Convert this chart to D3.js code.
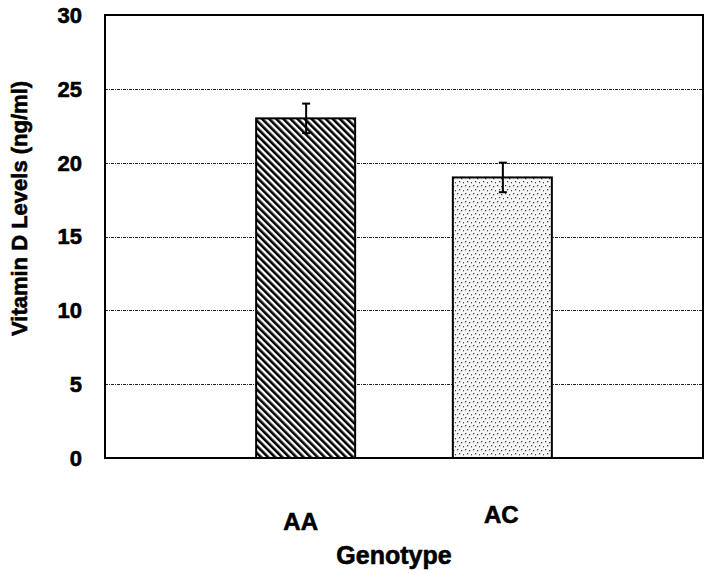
<!DOCTYPE html>
<html>
<head>
<meta charset="utf-8">
<script src="https://cdn.jsdelivr.net/npm/d3@7"></script>
<style>
  html, body { margin: 0; padding: 0; background: #fff; }
  svg { display: block; }
  text { font-family: "Liberation Sans", Arial, sans-serif; font-weight: bold; fill: #000; stroke: #000; stroke-width: 0.6; }
</style>
</head>
<body>
<svg id="chart" width="709" height="574"></svg>
<script>
// ---- data ----
const categories = ["AA", "AC"];
const values = [23, 19];
const errors = [1, 1];
const yTicks = [0, 5, 10, 15, 20, 25, 30];
const gridValues = [5, 10, 15, 20, 25];
const xTitle = "Genotype";
const yTitle = "Vitamin D Levels (ng/ml)";

// ---- layout ----
const plot = { left: 105, right: 703, top: 15, bottom: 458 };

const svg = d3.select("#chart");

const defs = svg.append("defs");
// diagonal stripes for AA
const stripe = defs.append("pattern")
  .attr("id", "stripes")
  .attr("patternUnits", "userSpaceOnUse")
  .attr("width", 5).attr("height", 5)
  .attr("patternTransform", "rotate(-45)");
stripe.append("rect").attr("width", 5).attr("height", 5).attr("fill", "#fff");
stripe.append("rect").attr("width", 2.6).attr("height", 5).attr("fill", "#000");

// stipple for AC
const dots = defs.append("pattern")
  .attr("id", "dots")
  .attr("patternUnits", "userSpaceOnUse")
  .attr("width", 8).attr("height", 8);
dots.append("rect").attr("width", 8).attr("height", 8).attr("fill", "#f6f6f6");
[[1,1],[5,2],[3,5],[7,6]].forEach(([dx,dy]) => {
  dots.append("rect").attr("x", dx).attr("y", dy).attr("width", 1.3).attr("height", 1.3).attr("fill", "#444");
});
const fills = ["url(#stripes)", "url(#dots)"];

const y = d3.scaleLinear().domain([0, 30]).range([plot.bottom, plot.top]);
const x = d3.scalePoint().domain(categories).range([plot.left, plot.right]).padding(1.02);
const barW = 99;

// gridlines
svg.append("g").selectAll("line").data(gridValues).join("line")
  .attr("x1", plot.left).attr("x2", plot.right)
  .attr("y1", d => Math.round(y(d)) + 0.5).attr("y2", d => Math.round(y(d)) + 0.5)
  .attr("stroke", "#222").attr("stroke-width", 1)
  .attr("stroke-dasharray", "3,1,1,1");

// bars
const data = categories.map((c, i) => ({ c, v: values[i], e: errors[i], fill: fills[i] }));
svg.append("g").selectAll("rect").data(data).join("rect")
  .attr("x", d => x(d.c) - barW / 2)
  .attr("y", d => y(d.v))
  .attr("width", barW)
  .attr("height", d => y(0) - y(d.v))
  .attr("fill", d => d.fill)
  .attr("stroke", "#000").attr("stroke-width", 2);

// error bars
const eg = svg.append("g").attr("stroke", "#000").attr("stroke-width", 2);
data.forEach(d => {
  const cx = x(d.c) + 0.5;
  eg.append("line").attr("x1", cx).attr("x2", cx).attr("y1", y(d.v + d.e)).attr("y2", y(d.v - d.e));
  eg.append("line").attr("x1", cx - 4).attr("x2", cx + 4).attr("y1", y(d.v + d.e)).attr("y2", y(d.v + d.e));
  eg.append("line").attr("x1", cx - 4).attr("x2", cx + 4).attr("y1", y(d.v - d.e)).attr("y2", y(d.v - d.e));
});

// frame
svg.append("rect")
  .attr("x", plot.left).attr("y", plot.top)
  .attr("width", plot.right - plot.left).attr("height", plot.bottom - plot.top)
  .attr("fill", "none").attr("stroke", "#000").attr("stroke-width", 2);

// y tick labels
svg.append("g").selectAll("text").data(yTicks).join("text")
  .attr("x", 82)
  .attr("y", d => y(d))
  .attr("dy", "0.36em")
  .attr("text-anchor", "end")
  .attr("font-size", 22)
  .text(d => d);

// category labels (slightly offset as in the original)
const catOffsets = [{ dx: -5, base: 530 }, { dx: -1, base: 523 }];
svg.append("g").selectAll("text").data(categories).join("text")
  .attr("x", (d, i) => x(d) + catOffsets[i].dx)
  .attr("y", (d, i) => catOffsets[i].base)
  .attr("text-anchor", "middle")
  .attr("font-size", 24)
  .text(d => d);

// axis titles
svg.append("text")
  .attr("x", 394).attr("y", 564)
  .attr("text-anchor", "middle")
  .attr("font-size", 25)
  .text(xTitle);

svg.append("text")
  .attr("transform", "translate(27,336) rotate(-90)")
  .attr("text-anchor", "start")
  .attr("font-size", 22)
  .text(yTitle);
</script>
</body>
</html>
